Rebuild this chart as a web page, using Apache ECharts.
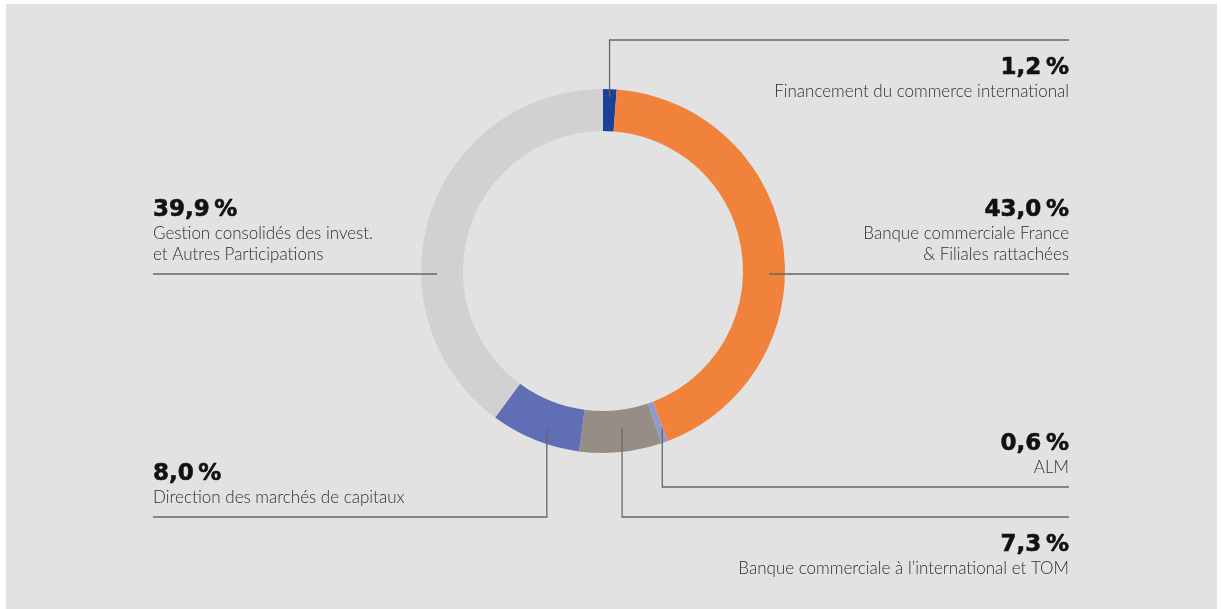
<!DOCTYPE html>
<html>
<head>
<meta charset="utf-8">
<script src="https://cdn.jsdelivr.net/npm/echarts@6/dist/echarts.min.js"></script>
<style>
  html, body { margin: 0; padding: 0; background: #ffffff; }
  #panel { position: absolute; left: 6px; top: 4px; width: 1211px; height: 605px; background: #e2e2e2; }
  #chart { position: absolute; left: 0; top: 0; width: 1221px; height: 609px; }
</style>
</head>
<body>
<div id="panel"></div>
<div id="chart"></div>
<script>
// Segment names (clockwise from 12 o'clock) and their shares in %
const categories = [
  'Financement du commerce international',
  'Banque commerciale France\n& Filiales rattachées',
  'ALM',
  'Banque commerciale à l\u2019international et TOM',
  'Direction des marchés de capitaux',
  'Gestion consolidés des invest.\net Autres Participations'
];
const shares = [1.2, 43.0, 0.6, 7.3, 8.0, 39.9];
const colors = ['#1b4196', '#f0823c', '#9199cd', '#978d87', '#5f6eb5', '#d1d1d1'];

// Ring geometry
const CX = 603, CY = 271, R_IN = 140, R_OUT = 182;
const RIGHT_X = 1069, LEFT_X = 153;

// Leader routing for each segment:
//  'h' = straight horizontal line crossing the ring at mid height,
//  'v' = vertical drop from a point inside the segment (at fraction `at` of its sweep,
//        radius `r`), then horizontal to the text column.
const leaders = [
  { kind: 'v', side: 'right', lineY: 40,  text: 'below', at: 0.5,  r: 174 },
  { kind: 'h', side: 'right', lineY: 274, text: 'above' },
  { kind: 'v', side: 'right', lineY: 487, text: 'above', at: 0.1,  r: 168 },
  { kind: 'v', side: 'right', lineY: 517, text: 'below', at: 0.45, r: 159 },
  { kind: 'v', side: 'left',  lineY: 517, text: 'above', at: 0.42, r: 167 },
  { kind: 'h', side: 'left',  lineY: 274, text: 'above' }
];

const total = shares.reduce((a, b) => a + b, 0);
const startFrac = [];
let acc = 0;
shares.forEach(v => { startFrac.push(acc / total); acc += v; });

function fmtPct(v) { return v.toFixed(1).replace('.', ',') + '\u2009%'; }

const pieData = (fill) => shares.map((v, i) => ({
  value: v,
  name: categories[i],
  itemStyle: { color: fill ? colors[i] : 'rgba(0,0,0,0)' }
}));

const chart = echarts.init(document.getElementById('chart'), null, { renderer: 'canvas' });

const common = {
  type: 'pie',
  center: [CX, CY],
  radius: [R_IN, R_OUT],
  startAngle: 90,
  clockwise: true,
  avoidLabelOverlap: false,
  silent: true,
  itemStyle: { borderWidth: 0 }
};

chart.setOption({
  backgroundColor: 'transparent',
  animation: false,
  series: [
    // the coloured ring
    Object.assign({}, common, {
      z: 2,
      data: pieData(true),
      label: { show: false },
      labelLine: { show: false }
    }),
    // same segments, invisible, carrying the labels and leader lines above the ring
    Object.assign({}, common, {
      z: 3,
      data: pieData(false),
      label: {
        show: true,
        position: 'outside',
        formatter: p => {
          const lines = categories[p.dataIndex].split('\n').map(s => '{d|' + s + '}');
          return '{p|' + fmtPct(shares[p.dataIndex]) + '}\n' + lines.join('\n');
        },
        rich: {
          p: {
            fontFamily: 'DejaVu Sans', fontWeight: 'bold', fontSize: 23, lineHeight: 26,
            color: '#111111', textBorderColor: '#111111', textBorderWidth: 0.6
          },
          d: { fontFamily: 'Lato', fontWeight: 300, fontSize: 17, lineHeight: 21, color: '#2e2e2e' }
        }
      },
      labelLine: {
        show: true,
        lineStyle: { color: '#666666', width: 1.3 }
      },
      labelLayout: function (params) {
        const i = params.dataIndex;
        const L = leaders[i];
        const endX = L.side === 'right' ? RIGHT_X : LEFT_X;
        let pts;
        if (L.kind === 'h') {
          const sx = CX + (L.side === 'right' ? 166 : -166);
          pts = [[sx, L.lineY], [(sx + endX) / 2, L.lineY], [endX, L.lineY]];
        } else {
          const a = (startFrac[i] + L.at * shares[i] / total) * Math.PI * 2;
          const ax = CX + L.r * Math.sin(a);
          const ay = CY - L.r * Math.cos(a);
          pts = [[ax, ay], [ax, L.lineY], [endX, L.lineY]];
        }
        return {
          x: endX,
          y: L.text === 'above' ? L.lineY - 9 : L.lineY + 15,
          align: L.side === 'right' ? 'right' : 'left',
          verticalAlign: L.text === 'above' ? 'bottom' : 'top',
          labelLinePoints: pts
        };
      }
    })
  ]
});
</script>
</body>
</html>
